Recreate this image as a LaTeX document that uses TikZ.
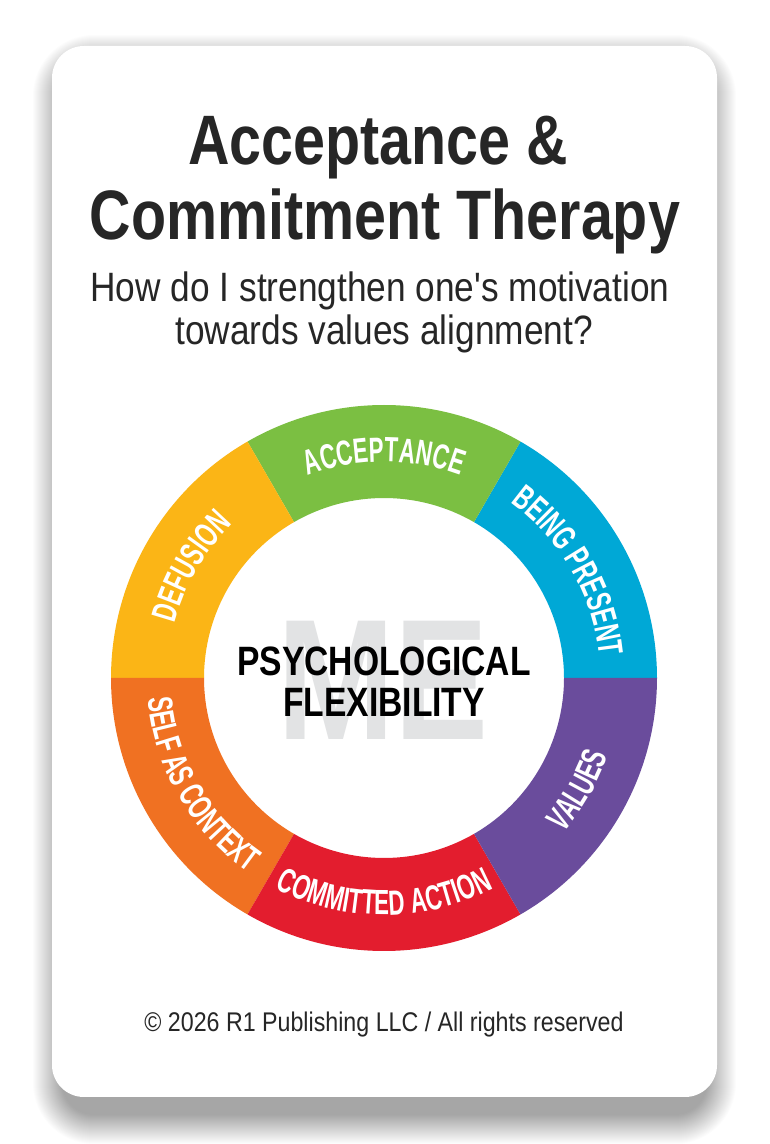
\documentclass[tikz,border=0pt]{standalone}
\usepackage{fontspec}
\setmainfont{Liberation Sans}
\newfontfamily\condfam[FakeStretch=0.82]{Liberation Sans}
\newfontfamily\thinfam[FakeStretch=0.86]{Liberation Sans}
\newfontfamily\ringfam[FakeStretch=0.64]{Liberation Sans}
\usetikzlibrary{decorations.text}
\definecolor{actGreen}{HTML}{7BBF42}
\definecolor{actYellow}{HTML}{FBB516}
\definecolor{actBlue}{HTML}{00A8D6}
\definecolor{actPurple}{HTML}{6A4C9C}
\definecolor{actRed}{HTML}{E31D2E}
\definecolor{actOrange}{HTML}{F07122}
\definecolor{titleDark}{HTML}{262626}
\definecolor{meGray}{HTML}{E2E3E4}

\begin{document}
\begin{tikzpicture}[x=1pt, y=1pt,
    title/.style={anchor=base, text=titleDark, font=\condfam\bfseries\fontsize{70}{70}\selectfont},
    subtitle/.style={anchor=base, text=titleDark, font=\thinfam\fontsize{41}{41}\selectfont},
    core/.style={anchor=base, text=black, font=\condfam\bfseries\fontsize{41}{41}\selectfont},
    ringlabel/.style={decorate, decoration={text along path, text align=center,
        text color=white, text={|\ringfam\bfseries\fontsize{35}{35}\selectfont|#1}}},
]
    \useasboundingbox (0,0) rectangle (769,1144);
    \fill[white] (0,0) rectangle (769,1144);

    % Card shadow
    \foreach \i in {0,...,29}
        \fill[black, opacity=0.011, rounded corners={(32+\i)*1pt}]
            (62-\i, 29-\i) rectangle (707+\i, 1080+\i);

    % Card
    \fill[white, rounded corners=32pt] (52,47) rectangle (717,1098);

    % Title
    \node[title] (title1) at (378,979) {Acceptance \&};
    \node[title] (title2) at (385,904) {Commitment Therapy};
    \node[subtitle] (sub1) at (380,842) {How do I strengthen one's motivation};
    \node[subtitle] (sub2) at (384,799) {towards values alignment?};

    % Ring
    \begin{scope}[shift={(384,466)}]
        \foreach \a/\col in {0/actBlue, 60/actGreen, 120/actYellow,
                             180/actOrange, 240/actRed, 300/actPurple}
            \fill[\col] (\a:273) arc[start angle=\a, end angle=\a+60, radius=273]
                -- (\a+60:180) arc[start angle=\a+60, end angle=\a, radius=180] -- cycle;

        % upper labels, tops outward
        \path[ringlabel=ACCEPTANCE] (135:216) arc[start angle=135, end angle=45, radius=216];
        \path[ringlabel=BEING PRESENT] (75:216) arc[start angle=75, end angle=-15, radius=216];
        \path[ringlabel=DEFUSION] (195:216) arc[start angle=195, end angle=105, radius=216];
        % lower labels, tops inward
        \path[ringlabel=SELF AS CONTEXT] (165:237) arc[start angle=165, end angle=255, radius=237];
        \path[ringlabel=COMMITTED ACTION] (225:237) arc[start angle=225, end angle=315, radius=237];
        \path[ringlabel=VALUES] (285:237) arc[start angle=285, end angle=375, radius=237];
    \end{scope}

    % Centre
    \node[anchor=base, text=meGray, font=\condfam\bfseries\fontsize{172}{172}\selectfont] (me) at (383,404) {ME};
    \node[core] (psych) at (384,468) {PSYCHOLOGICAL};
    \node[core] (flex) at (384,427) {FLEXIBILITY};

    % Footer
    \node[anchor=base, text=titleDark, font=\thinfam\fontsize{27}{27}\selectfont] (foot) at (384,112)
        {\char"00A9{} 2026 R1 Publishing LLC / All rights reserved};
\end{tikzpicture}
\end{document}
